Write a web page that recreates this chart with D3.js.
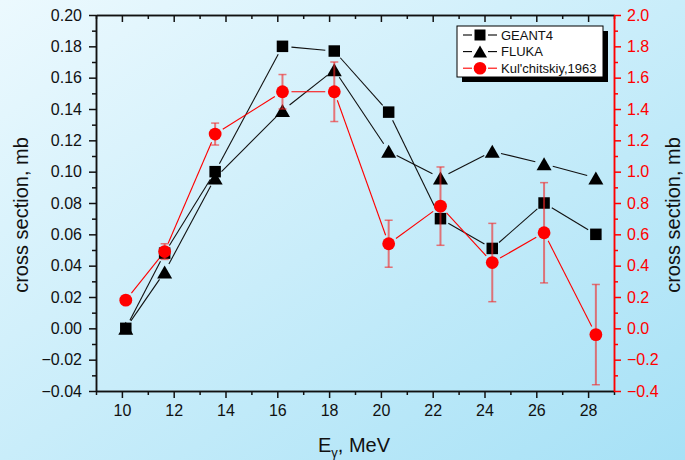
<!DOCTYPE html>
<html>
<head>
<meta charset="utf-8">
<script src="https://cdn.jsdelivr.net/npm/d3@7"></script>
<style>
  html, body { margin: 0; padding: 0; }
  svg { display: block; font-family: "Liberation Sans", Arial, sans-serif; }
</style>
</head>
<body>
<svg id="chart" width="685" height="460"></svg>
<script>
// Photon energy (MeV) of each point
const energy = [10.15, 11.65, 13.6, 16.2, 18.2, 20.3, 22.3, 24.3, 26.3, 28.3];
// Simulated cross sections, left axis (mb)
const geant4 = [0.000, 0.048, 0.100, 0.180, 0.177, 0.138, 0.070, 0.051, 0.080, 0.060];
const fluka  = [0.000, 0.036, 0.096, 0.139, 0.165, 0.113, 0.096, 0.113, 0.105, 0.096];
// Measured cross section, right axis (mb), with errors
const kulchitskiy    = [0.18, 0.49, 1.24, 1.51, 1.51, 0.54, 0.78, 0.42, 0.61, -0.04];
const kulchitskiyErr = [0, 0.05, 0.07, 0.11, 0.19, 0.15, 0.25, 0.25, 0.32, 0.32];

const xTicks = [10, 12, 14, 16, 18, 20, 22, 24, 26, 28];
const leftTicks = [-0.04, -0.02, 0.00, 0.02, 0.04, 0.06, 0.08, 0.10, 0.12, 0.14, 0.16, 0.18, 0.20];
const rightTicks = [-0.4, -0.2, 0.0, 0.2, 0.4, 0.6, 0.8, 1.0, 1.2, 1.4, 1.6, 1.8, 2.0];
const seriesNames = ["GEANT4", "FLUKA", "Kul'chitskiy,1963"];

const svg = d3.select("#chart");
const W = 685, H = 460;
const plot = { left: 96, right: 614, top: 15, bottom: 391 };

// background
const defs = svg.append("defs");
const grad = defs.append("linearGradient").attr("id", "bg")
  .attr("x1", "0").attr("y1", "0").attr("x2", "1").attr("y2", "1");
grad.append("stop").attr("offset", "0%").attr("stop-color", "#ecf9fe");
grad.append("stop").attr("offset", "100%").attr("stop-color", "#a6e1f6");
svg.append("rect").attr("width", W).attr("height", H).attr("fill", "url(#bg)");

const x = d3.scaleLinear().domain([9, 29]).range([plot.left, plot.right]);
const yL = d3.scaleLinear().domain([-0.04, 0.20]).range([plot.bottom, plot.top]);
const yR = d3.scaleLinear().domain([-0.4, 2.0]).range([plot.bottom, plot.top]);

const minorX = d3.range(9, 29.5, 1).filter(v => Math.round(v) % 2 === 1);
const minorL = d3.range(-0.03, 0.2, 0.02).map(v => +v.toFixed(2));
const minorR = d3.range(-0.3, 2.0, 0.2).map(v => +v.toFixed(1));

function styleAxis(g, color) {
  g.select(".domain").attr("stroke", color).attr("stroke-width", 1.5);
  g.selectAll(".tick line").attr("stroke", color).attr("stroke-width", 1.5);
  g.selectAll(".tick text").attr("fill", color).attr("font-size", 16)
    .attr("font-family", "Liberation Sans, Arial, sans-serif");
}

// bottom axis
const gB = svg.append("g").attr("transform", `translate(0,${plot.bottom})`)
  .call(d3.axisBottom(x).tickValues(xTicks).tickFormat(d3.format("d"))
    .tickSize(7).tickSizeOuter(0).tickPadding(7));
styleAxis(gB, "#111");
svg.append("g").attr("transform", `translate(0,${plot.bottom})`)
  .call(d3.axisBottom(x).tickValues(minorX).tickFormat("").tickSize(4).tickSizeOuter(0))
  .call(g => styleAxis(g, "#111"));

// top axis, ticks inward
const gT = svg.append("g").attr("transform", `translate(0,${plot.top})`)
  .call(d3.axisTop(x).tickValues(xTicks).tickFormat("").tickSize(-7).tickSizeOuter(0));
styleAxis(gT, "#111");
svg.append("g").attr("transform", `translate(0,${plot.top})`)
  .call(d3.axisTop(x).tickValues(minorX).tickFormat("").tickSize(-4).tickSizeOuter(0))
  .call(g => styleAxis(g, "#111"));

// left axis
const gL = svg.append("g").attr("transform", `translate(${plot.left},0)`)
  .call(d3.axisLeft(yL).tickValues(leftTicks).tickFormat(d3.format(".2f"))
    .tickSize(7).tickSizeOuter(0).tickPadding(7));
styleAxis(gL, "#111");
svg.append("g").attr("transform", `translate(${plot.left},0)`)
  .call(d3.axisLeft(yL).tickValues(minorL).tickFormat("").tickSize(4).tickSizeOuter(0))
  .call(g => styleAxis(g, "#111"));

// right axis (red)
const gR = svg.append("g").attr("transform", `translate(${plot.right},0)`)
  .call(d3.axisRight(yR).tickValues(rightTicks).tickFormat(d3.format(".1f"))
    .tickSize(7).tickSizeOuter(0).tickPadding(6));
styleAxis(gR, "#ff0000");
svg.append("g").attr("transform", `translate(${plot.right},0)`)
  .call(d3.axisRight(yR).tickValues(minorR).tickFormat("").tickSize(4).tickSizeOuter(0))
  .call(g => styleAxis(g, "#ff0000"));

// axis titles
svg.append("text")
  .attr("transform", `translate(28,215) rotate(-90)`)
  .attr("text-anchor", "middle").attr("font-size", 20).attr("fill", "#111")
  .text("cross section, mb");
svg.append("text")
  .attr("transform", `translate(680,215) rotate(-90)`)
  .attr("text-anchor", "middle").attr("font-size", 20).attr("fill", "#111")
  .text("cross section, mb");
const xt = svg.append("text").attr("x", 354).attr("y", 452)
  .attr("text-anchor", "middle").attr("font-size", 20).attr("fill", "#111");
xt.append("tspan").text("E");
xt.append("tspan").attr("font-size", 13).attr("dy", 5).text("γ");
xt.append("tspan").attr("dy", -5).text(", MeV");

// connecting lines that stop short of each marker
function gappedLine(g, pts, color, gap) {
  for (let i = 0; i < pts.length - 1; i++) {
    const [x1, y1] = pts[i], [x2, y2] = pts[i + 1];
    const dx = x2 - x1, dy = y2 - y1, len = Math.hypot(dx, dy);
    if (len <= 2 * gap) continue;
    const ux = dx / len, uy = dy / len;
    g.append("line")
      .attr("x1", x1 + ux * gap).attr("y1", y1 + uy * gap)
      .attr("x2", x2 - ux * gap).attr("y2", y2 - uy * gap)
      .attr("stroke", color).attr("stroke-width", 1.1);
  }
}

const squarePath = s => `M${-s/2},${-s/2}h${s}v${s}h${-s}Z`;
const trianglePath = (w, h) => `M0,${-h/2}L${w/2},${h/2}L${-w/2},${h/2}Z`;

const marks = svg.append("g");

// GEANT4
const gPts = energy.map((e, i) => [x(e), yL(geant4[i])]);
gappedLine(marks, gPts, "#111", 9);
marks.selectAll(".sq").data(gPts).join("path")
  .attr("transform", d => `translate(${d[0]},${d[1]})`)
  .attr("d", squarePath(11.5)).attr("fill", "#000");

// FLUKA
const fPts = energy.map((e, i) => [x(e), yL(fluka[i])]);
gappedLine(marks, fPts, "#111", 9);
marks.selectAll(".tri").data(fPts).join("path")
  .attr("transform", d => `translate(${d[0]},${d[1]})`)
  .attr("d", trianglePath(15, 13)).attr("fill", "#000");

// Kul'chitskiy measurements with error bars
const kPts = energy.map((e, i) => [x(e), yR(kulchitskiy[i])]);
gappedLine(marks, kPts, "#ff0000", 9);
const errColor = "rgba(240,40,40,0.62)";
energy.forEach((e, i) => {
  const err = kulchitskiyErr[i];
  if (!err) return;
  const cx = x(e), yTop = yR(kulchitskiy[i] + err), yBot = yR(kulchitskiy[i] - err);
  marks.append("line").attr("x1", cx).attr("x2", cx).attr("y1", yTop).attr("y2", yBot)
    .attr("stroke", errColor).attr("stroke-width", 2);
  [yTop, yBot].forEach(yy => marks.append("line")
    .attr("x1", cx - 4).attr("x2", cx + 4).attr("y1", yy).attr("y2", yy)
    .attr("stroke", errColor).attr("stroke-width", 1.5));
});
marks.selectAll(".dot").data(kPts).join("circle")
  .attr("cx", d => d[0]).attr("cy", d => d[1]).attr("r", 6.4).attr("fill", "#ff0000");

// legend
const lg = svg.append("g").attr("transform", "translate(457,26)");
const lw = 146, lh = 51;
lg.append("rect").attr("x", 5).attr("y", 5).attr("width", lw).attr("height", lh).attr("fill", "#000");
lg.append("rect").attr("width", lw).attr("height", lh).attr("fill", "#fff")
  .attr("stroke", "#000").attr("stroke-width", 1);
const legendColors = ["#000", "#000", "#ff0000"];
seriesNames.forEach((name, i) => {
  const cy = 9 + i * 16.6;
  const row = lg.append("g").attr("transform", `translate(0,${cy})`);
  row.append("line").attr("x1", 6).attr("x2", 15).attr("y1", 0).attr("y2", 0)
    .attr("stroke", legendColors[i]).attr("stroke-width", 1.1);
  row.append("line").attr("x1", 31).attr("x2", 40).attr("y1", 0).attr("y2", 0)
    .attr("stroke", legendColors[i]).attr("stroke-width", 1.1);
  const m = row.append("g").attr("transform", "translate(23,0)");
  if (i === 0) m.append("path").attr("d", squarePath(11)).attr("fill", "#000");
  if (i === 1) m.append("path").attr("d", trianglePath(14, 12)).attr("fill", "#000");
  if (i === 2) m.append("circle").attr("r", 6.3).attr("fill", "#ff0000");
  row.append("text").attr("x", 44).attr("y", 4.5).attr("font-size", 13)
    .attr("fill", "#111").text(name);
});
</script>
</body>
</html>
